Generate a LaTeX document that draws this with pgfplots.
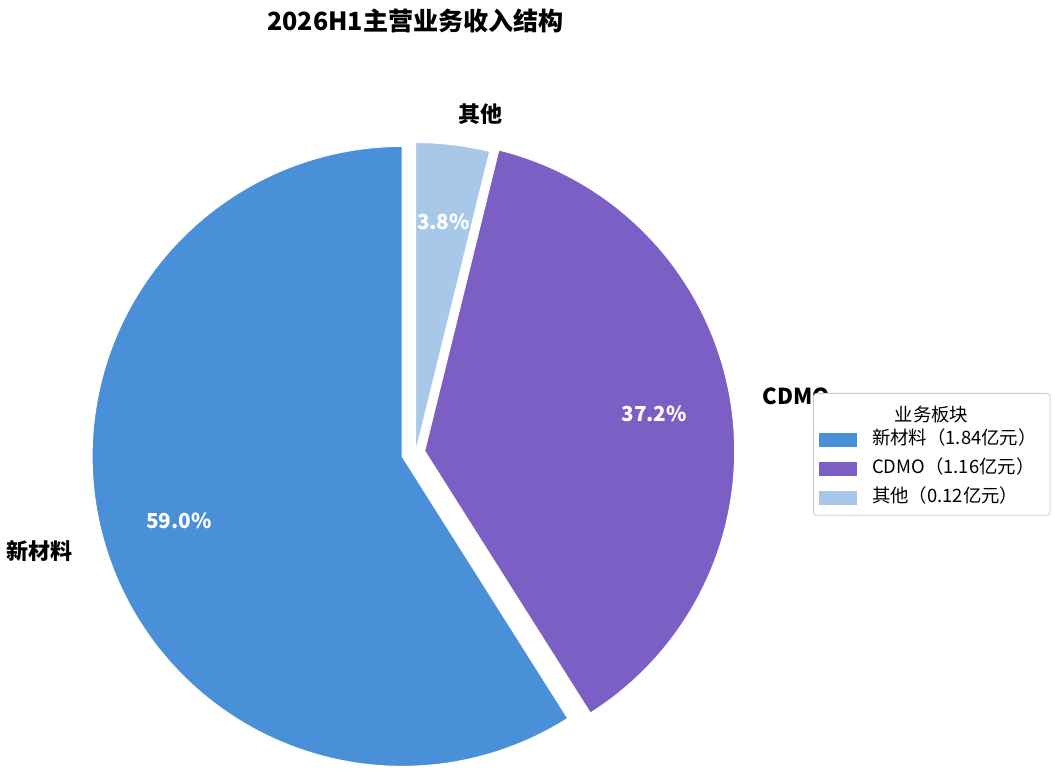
\documentclass[border=0pt]{standalone}
\usepackage{fontspec}
\setmainfont{Noto Sans CJK SC}
\usepackage{pgfplots}
\usepackage{pgfplotstable}
\pgfplotsset{compat=1.18}
\definecolor{cA}{HTML}{4A90D9}
\definecolor{cB}{HTML}{7B5FC4}
\definecolor{cC}{HTML}{A8C8E8}
\definecolor{legframe}{HTML}{CCCCCC}

\pgfplotstableread{
name value explode
新材料 1.84 0.045
CDMO 1.16 0.03
其他 0.12 0
}\piedata
\pgfplotstablegetelem{0}{value}\of\piedata \edef\vA{\pgfplotsretval}
\pgfplotstablegetelem{1}{value}\of\piedata \edef\vB{\pgfplotsretval}
\pgfplotstablegetelem{2}{value}\of\piedata \edef\vC{\pgfplotsretval}
\pgfplotstablegetelem{0}{explode}\of\piedata \edef\eA{\pgfplotsretval}
\pgfplotstablegetelem{1}{explode}\of\piedata \edef\eB{\pgfplotsretval}
\pgfplotstablegetelem{2}{explode}\of\piedata \edef\eC{\pgfplotsretval}
\pgfmathsetmacro\tot{\vA+\vB+\vC}
\pgfmathsetmacro\aA{90}
\pgfmathsetmacro\aB{\aA+360*\vA/\tot}
\pgfmathsetmacro\aC{\aB+360*\vB/\tot}
\pgfmathsetmacro\aD{\aC+360*\vC/\tot}
\pgfmathsetmacro\mA{(\aA+\aB)/2}
\pgfmathsetmacro\mB{(\aB+\aC)/2}
\pgfmathsetmacro\mC{(\aC+\aD)/2}
\def\R{310}
\def\CX{415.5}
\def\CY{321.5}
\pgfmathsetmacro\cxA{\CX+\eA*\R*cos(\mA)}
\pgfmathsetmacro\cyA{\CY+\eA*\R*sin(\mA)}
\pgfmathsetmacro\cxB{\CX+\eB*\R*cos(\mB)}
\pgfmathsetmacro\cyB{\CY+\eB*\R*sin(\mB)}
\pgfmathsetmacro\cxC{\CX+\eC*\R*cos(\mC)}
\pgfmathsetmacro\cyC{\CY+\eC*\R*sin(\mC)}
\pgfmathsetmacro\pA{100*\vA/\tot}
\pgfmathsetmacro\pB{100*\vB/\tot}
\pgfmathsetmacro\pC{100*\vC/\tot}

\begin{document}
\begin{tikzpicture}
\begin{axis}[
  width=791.25pt, height=580.5pt, scale only axis,
  xmin=0, xmax=1055, ymin=0, ymax=774,
  hide axis, clip=false,
  legend cell align=left,
  legend image code/.code={\path[#1,draw=none,sharp corners] (0pt,-5.25pt) rectangle (28.5pt,5.25pt);},
  legend style={at={(axis cs:813,381)}, anchor=north west,
    draw=legframe, line width=0.6pt, rounded corners=2.5pt, fill=white,
    font=\fontsize{13.8}{16}\selectfont,
    inner xsep=4.5pt, inner ysep=6.5pt,
    nodes={inner sep=0pt, text height=10pt, text depth=3pt},
    row sep=8.8pt, column sep=11pt},
]
\addlegendimage{empty legend}
\addlegendentry{\hspace*{17pt}\raisebox{-4.5pt}{业务板块}}
\addplot[fill=cA, draw=white, line width=0.75pt, domain=\aA:\aB, samples=150, variable=\t]
  ({\cxA+\R*cos(\t)}, {\cyA+\R*sin(\t)}) -- (axis cs:\cxA,\cyA) -- cycle;
\addlegendentry{\makebox[129pt][l]{新材料（1.84亿元）}}
\addplot[fill=cB, draw=white, line width=0.75pt, domain=\aB:\aC, samples=120, variable=\t]
  ({\cxB+\R*cos(\t)}, {\cyB+\R*sin(\t)}) -- (axis cs:\cxB,\cyB) -- cycle;
\addlegendentry{CDMO（1.16亿元）}
\addplot[fill=cC, draw=white, line width=0.75pt, domain=\aC:\aD, samples=30, variable=\t]
  ({\cxC+\R*cos(\t)}, {\cyC+\R*sin(\t)}) -- (axis cs:\cxC,\cyC) -- cycle;
\addlegendentry{其他（0.12亿元）}
% category labels
\node[anchor=east, inner sep=1pt, font=\bfseries\fontsize{16.5}{18}\selectfont]
  at (axis cs:{\cxA+1.1*\R*cos(\mA)},{\cyA+1.1*\R*sin(\mA)}) {新材料};
\node[anchor=west, inner sep=1pt, font=\bfseries\fontsize{16.5}{18}\selectfont]
  at (axis cs:{\cxB+1.1*\R*cos(\mB)},{\cyB+1.1*\R*sin(\mB)}) {CDMO};
\node[anchor=west, inner sep=1pt, font=\bfseries\fontsize{16.5}{18}\selectfont]
  at (axis cs:{\cxC+1.1*\R*cos(\mC)},{\cyC+1.1*\R*sin(\mC)}) {其他};
% percentage labels
\node[text=white, font=\bfseries\fontsize{15.5}{18}\selectfont]
  at (axis cs:{\cxA+0.75*\R*cos(\mA)},{\cyA+0.75*\R*sin(\mA)})
  {\pgfmathprintnumber[fixed,precision=1,fixed zerofill,assume math mode=true]{\pA}\%};
\node[text=white, font=\bfseries\fontsize{15.5}{18}\selectfont]
  at (axis cs:{\cxB+0.75*\R*cos(\mB)},{\cyB+0.75*\R*sin(\mB)})
  {\pgfmathprintnumber[fixed,precision=1,fixed zerofill,assume math mode=true]{\pB}\%};
\node[text=white, font=\bfseries\fontsize{15.5}{18}\selectfont]
  at (axis cs:{\cxC+0.75*\R*cos(\mC)},{\cyC+0.75*\R*sin(\mC)})
  {\pgfmathprintnumber[fixed,precision=1,fixed zerofill,assume math mode=true]{\pC}\%};
% title
\node[font=\bfseries\fontsize{18.8}{22}\selectfont] at (axis cs:415.5,753) {2026H1主营业务收入结构};
\end{axis}
\pgfresetboundingbox
\useasboundingbox (current axis.south west) rectangle (current axis.north east);
\end{tikzpicture}
\end{document}
